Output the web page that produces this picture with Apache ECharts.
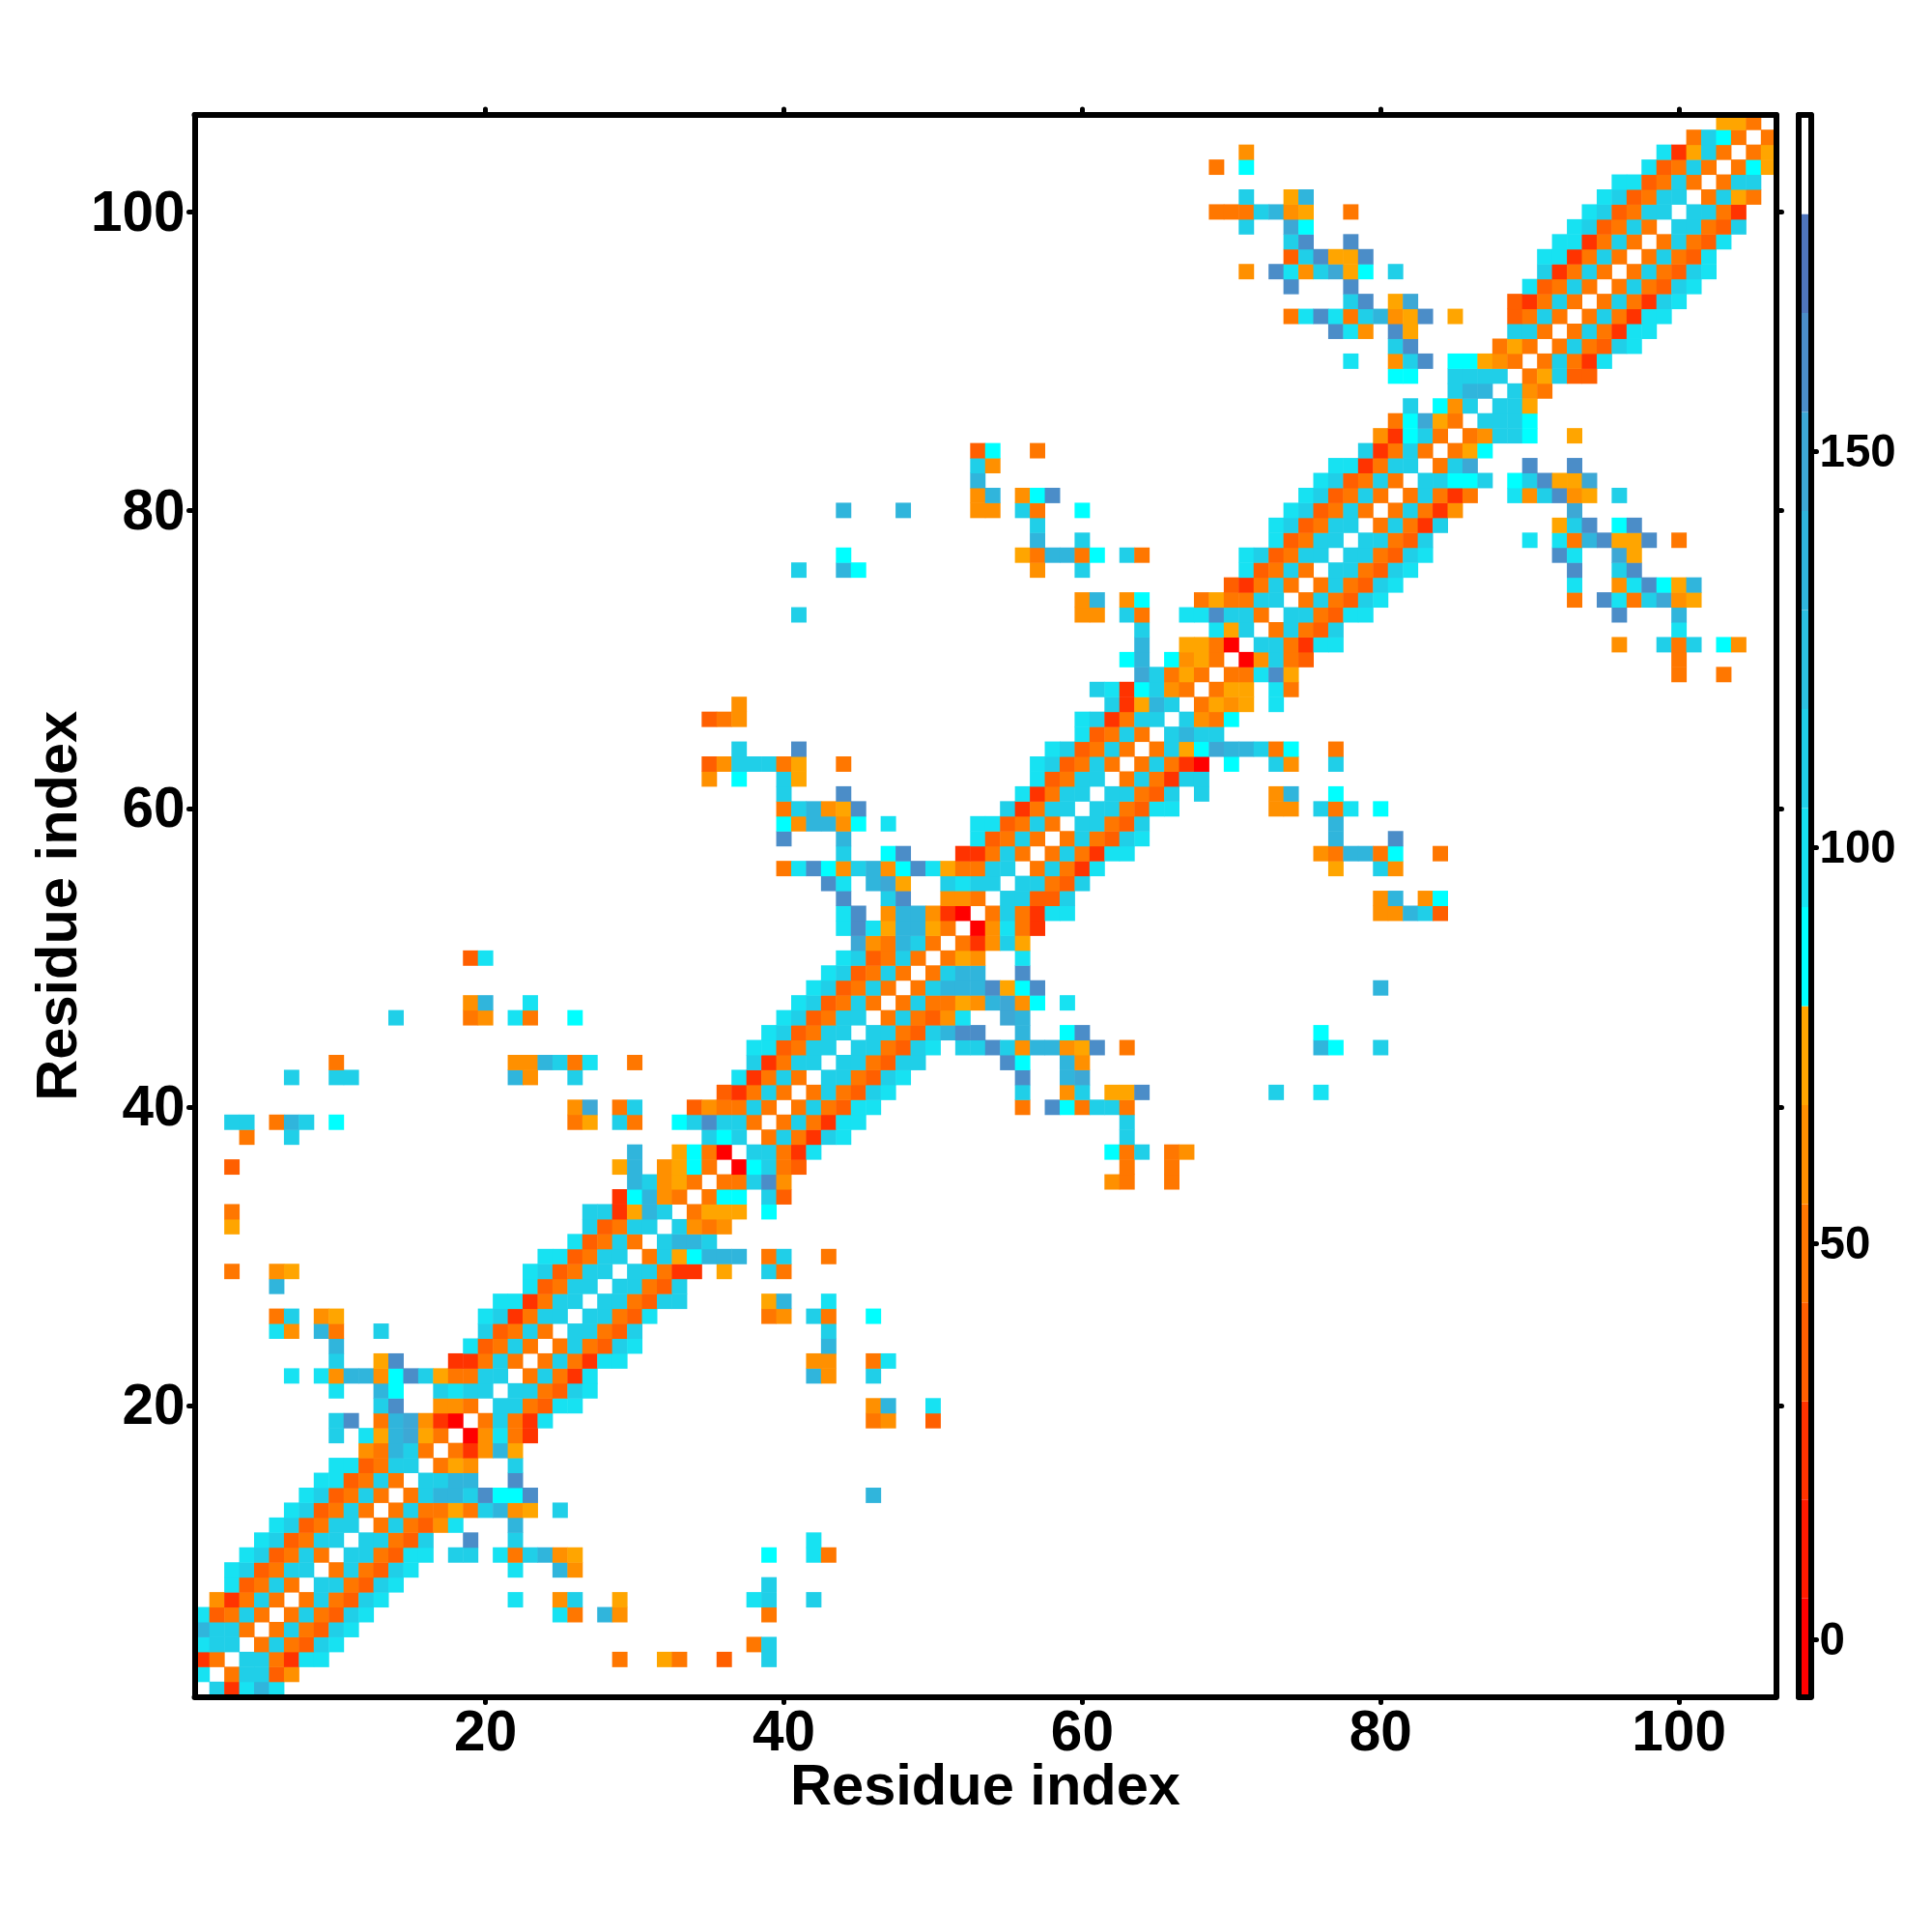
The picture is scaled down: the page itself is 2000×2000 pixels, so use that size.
<!DOCTYPE html>
<html>
<head>
<meta charset="utf-8">
<style>
  html, body { margin: 0; padding: 0; background: #fff; }
  #chart { width: 2000px; height: 2000px; }
</style>
<script src="https://cdn.jsdelivr.net/npm/echarts@6/dist/echarts.min.js"></script>
</head>
<body>
<div id="chart"></div>
<script>
// contact map, rows go bottom to top, "col:codes" runs, '.' is an empty cell
var contactRows = [
  "2:eRdfd",
  "1:d.Oeeoa",
  "1:RO.eeORdd 29:O 32:AO 36:o 39:e",
  "1:dee.OeOoed 38:Oe",
  "1:feeO.OeOoed",
  "1:doOeO.OeOoed 25:dO 28:fa 39:O",
  "2:aROeO.OeOoed 22:d 25:ae 29:A 38:de 42:e",
  "3:doOeO.eeOoed 39:e",
  "3:deoOee.OeOoed 22:d 25:fa",
  "4:deoOeO.eeOodd 18:ee 21:dOefaA 39:c 42:dO",
  "5:deoOee.eeOoe 19:b 22:e 42:d",
  "6:deoOee.OeOoad 22:f",
  "7:deoOeO.OeOOAOefaA 25:e",
  "8:deoOeO.Oeffebccb 46:f",
  "9:ddoOeO.eeff 22:b",
  "10:ddoOee.OAa 22:e",
  "12:aOfeO.ORafA",
  "10:e 12:dAfgAO.radOR",
  "10:eb 13:OfgaRr.OeORd 46:Oa 50:o",
  "13:eb 17:aaO.eeOodd 46:af 50:d",
  "10:d 13:fc 17:edee.eeOoed",
  "7:d 9:daffacbeAOOee.OeORd 42:fa 46:e",
  "10:e 13:Ab 18:RROeO.OeORdd 42:aa 46:Od",
  "10:f 19:doOeO.OeOoed 43:f",
  "6:da 9:fO 13:e 20:eoOeO.eeOoe 43:e",
  "6:Oe 9:aA 20:deROee.eeOod 39:Oa 42:eO 46:c",
  "21:ddROee.eeOoee 39:Af 43:d",
  "6:f 23:doOee.eeOoe",
  "3:O 6:aA 23:deoOee.eeORR 36:A 39:eO",
  "24:ddoOee.OeAcfff 39:Oe 43:O",
  "26:doOeO.effe",
  "3:A 27:eoOee.eaOa",
  "3:O 27:eeRAfe.OAAA 39:c",
  "29:RcfaO.Occ 39:eo",
  "30:feaAO.OOeba 62:aO 66:O",
  "3:o 29:Af 32:aAcO.rceOo 63:O 66:O",
  "30:f 33:AcOr.eeORd 62:cOe 66:Oa",
  "4:O 7:e 35:ece.OeORed 63:e",
  "3:ee 6:Ofe 10:c 26:OA 29:eO 33:cebeeO.OeORdd 63:e",
  "26:ag 29:Oe 34:oaOOeO.OeOodd 56:O 58:bcOeeO",
  "36:oROeO.OeOoed 56:e 59:ae 62:AAb 73:e 76:d",
  "7:e 10:ee 22:fa 26:e 37:dROeO.eeOoed 56:b 59:fg",
  "10:O 22:aafeOd 30:O 38:eROee.eeOoee 55:bc 59:fa",
  "38:ddoOee.eeOoed 52:eebeaffaAb 63:O 76:fc 80:e",
  "39:deoOee.eeOoefbb 56:f 59:cb 76:c",
  "14:e 19:Oa 22:dO 26:c 40:deoOee.OeOoad 55:gf",
  "19:af 23:d 41:deoOeO.OeOOAafgac 59:d",
  "42:deoOeO.OefffbAcb 80:f",
  "43:deoOeO.Oeff 56:b",
  "19:od 44:deoOeO.OAa 56:d",
  "45:gaOfeO.ORaeA",
  "44:dbdAffAO.radOR",
  "44:db 47:affaRr.OeORdd 80:aafeo",
  "44:b 47:eb 51:aaO.eeooe 80:af 83:ac",
  "43:bd 46:fgA 51:edee.eeOoe",
  "40:OdbcaefacbdAOOee.OeORd 77:A 80:ea",
  "44:e 47:cb 52:RROeO.OeORdd 76:aOffOc 84:O",
  "40:b 44:f 53:doOeO.OeOoed 77:f 81:b",
  "40:caffac 47:d 53:ddoOeO.eeOoe 77:f",
  "40:OefaAb 55:eROee.eeOodd 73:aa 76:eOd 80:c",
  "40:e 44:b 56:dROee.eeOoe 68:e 73:af 77:c",
  "35:a 37:c 40:eA 57:doOee.OeORee",
  "35:oa 37:eee 40:OA 44:O 57:deoOeO.OeORr 70:c 73:ea 77:e",
  "37:e 41:b 58:deoOeO.OeAcgffeOc 77:O",
  "60:doOeO.efee",
  "35:oOa 60:deROee.eaOc",
  "37:a 62:eRAfe.OAaA 73:d",
  "61:edRceaO.OAA 73:dO",
  "64:geOAO.OOdbA 100:O 103:O",
  "63:cf 66:caAO.raeOo 100:O",
  "64:f 67:AAOr.eeORdd 96:a 99:eOe 103:ca",
  "64:e 69:dAe.OeOoe 100:d",
  "41:e 60:aa 63:eO 67:ddbeeO.eeOodd 96:b 100:f",
  "60:af 63:ac 68:OAOOee.OeOoed 93:O 95:bdOegaA",
  "70:oROeO.OeOoed 93:d 96:adbcAf",
  "41:e 44:fc 57:a 60:e 71:doOeO.eeOoed 93:b 96:eb",
  "44:c 56:AOffOc 63:eO 71:deoOee.eeOoed 92:bd 96:gA",
  "57:f 60:e 73:doOee.eeOoe 90:d 92:dOfbAAb 100:O",
  "57:e 73:deoOee.OeORe 92:Aeb 96:cb",
  "44:f 48:f 53:aa 56:eO 60:c 74:deoOeO.OeORa 93:g",
  "53:af 56:acb 75:deoOeO.OeORO 89:daebaA 96:e",
  "53:f 76:deoOeO.eecce 89:cebAAg",
  "53:ea 77:ddROee.Oeg 90:b 93:b",
  "53:oc 57:O 79:eROeO.OAc",
  "80:aRceO.Oaeec 93:A",
  "81:OcgAO.eeec",
  "82:e 84:cae.eeA",
  "85:eff.eaO",
  "81:cc 85:eeee.OAeoo",
  "78:d 81:aeb 85:ccAaO.OeORd",
  "81:eb 88:OAO.OeOoed",
  "77:bda 81:bA 89:eeO.OeORdd",
  "74:OdbdOefaAb 85:A 89:oOeO.OeORdd",
  "78:eb 81:Ag 89:oROeO.OeORed",
  "74:b 78:b 90:doOeO.OeOoed",
  "71:a 73:bdaegAc 81:e 91:eROeO.OeOoed",
  "74:oebAAb 91:ddROeO.OeOod",
  "74:eb 78:b 92:ddROeO.OeOod",
  "71:e 74:gc 93:deoOeO.eeOoe",
  "69:OOOefaA 78:O 94:deoOee.eeOR",
  "71:e 74:Af 95:deoOee.OeAO",
  "96:ddoOeO.Oee",
  "69:O 71:c 98:doOeO.OcA",
  "71:a 99:dRAeO.OA",
  "101:OecO.O",
  "103:AAO"
];

// what each letter in contactRows stands for
var levelCodes = { r: -1, R: 24, o: 36, O: 49, a: 61, A: 74, c: 86, d: 99, e: 111, f: 136, g: 149, b: 161 };

var scaleBreaks = [-7.2, 5.2, 17.7, 30.1, 42.6, 55, 67.5, 80, 92.5, 105, 117.5, 130, 142.5, 155, 167.5, 180, 192.5];
var scaleColors = ['#ff0000', '#ff1a00', '#ff3300', '#ff5f00', '#ff7700', '#ff9000', '#ffa500',
  '#00ffff', '#17e2f2', '#20cfe8', '#2cc0e2', '#30b5dc', '#3da8d5', '#4b8dc8', '#4f75bc', '#ffffff'];
var scaleTicks = [0, 50, 100, 150];

var residues = [];
for (var i = 1; i <= contactRows.length; i++) residues.push(String(i));

var cells = [];
contactRows.forEach(function(row, r) {
  row.split(' ').forEach(function(run) {
    var parts = run.split(':');
    var start = +parts[0] - 1;
    parts[1].split('').forEach(function(code, k) {
      if (code !== '.') cells.push([start + k, r, levelCodes[code]]);
    });
  });
});

var segments = scaleColors.map(function(c, k) { return [scaleBreaks[k], scaleBreaks[k + 1], k]; });
var pieces = scaleColors.map(function(c, k) { return { gte: scaleBreaks[k], lt: scaleBreaks[k + 1], color: c }; });

var font = '"Liberation Sans", Arial, sans-serif';
var frame = { show: true, onZero: false, lineStyle: { color: '#000', width: 6, cap: 'round' } };
var tickStyle = { color: '#000', width: 5, cap: 'round' };
var every20 = function(idx, val) { return +val % 20 === 0; };

function mainAxis(position, labelled) {
  var isX = position === 'bottom' || position === 'top';
  return {
    type: 'category',
    gridIndex: 0,
    position: position,
    data: residues,
    z: 6,
    axisLine: frame,
    axisTick: { show: true, length: 6, alignWithLabel: true, interval: every20, lineStyle: tickStyle },
    axisLabel: labelled ? {
      show: true, interval: every20, color: '#000', margin: 10, hideOverlap: false,
      fontFamily: font, fontWeight: 'bold', fontSize: 58.5,
      formatter: isX ? '{value}' : '{v|{value}}',
      rich: { v: { color: '#000', fontFamily: font, fontWeight: 'bold', fontSize: 58.5, padding: [6, 0, 0, 0] } }
    } : { show: false },
    splitLine: { show: false },
    name: labelled ? 'Residue index' : '',
    nameLocation: 'middle',
    nameMoveOverlap: false,
    nameGap: isX ? 65 : 109,
    nameTextStyle: { color: '#000', fontFamily: font, fontWeight: 'bold', fontSize: 59.6 }
  };
}

var chart = echarts.init(document.getElementById('chart'));
chart.setOption({
  backgroundColor: '#fff',
  animation: false,
  grid: [
    { left: 201.5, top: 119, width: 1637, height: 1637.5 },
    { left: 1862, top: 119, width: 12.5, height: 1637.5 }
  ],
  xAxis: [
    mainAxis('bottom', true),
    mainAxis('top', false),
    { type: 'value', gridIndex: 1, position: 'bottom', min: 0, max: 1, z: 6, axisLine: frame, axisTick: { show: false }, axisLabel: { show: false }, splitLine: { show: false } },
    { type: 'value', gridIndex: 1, position: 'top', min: 0, max: 1, z: 6, axisLine: frame, axisTick: { show: false }, axisLabel: { show: false }, splitLine: { show: false } }
  ],
  yAxis: [
    mainAxis('left', true),
    mainAxis('right', false),
    { type: 'value', gridIndex: 1, position: 'left', min: scaleBreaks[0], max: scaleBreaks[16], z: 6, axisLine: frame, axisTick: { show: false }, axisLabel: { show: false }, splitLine: { show: false } },
    {
      type: 'value', gridIndex: 1, position: 'right', min: scaleBreaks[0], max: scaleBreaks[16], z: 6,
      axisLine: frame,
      axisTick: { show: true, length: 6, customValues: scaleTicks, lineStyle: tickStyle },
      axisLabel: {
        show: true, customValues: scaleTicks, margin: 9, color: '#000',
        fontFamily: font, fontWeight: 'bold', fontSize: 47.5,
        formatter: '{v|{value}}',
        rich: { v: { color: '#000', fontFamily: font, fontWeight: 'bold', fontSize: 47.5, padding: [5, 0, 0, 0] } }
      },
      splitLine: { show: false }
    }
  ],
  visualMap: { type: 'piecewise', show: false, seriesIndex: 0, dimension: 2, pieces: pieces },
  series: [
    {
      type: 'heatmap',
      xAxisIndex: 0,
      yAxisIndex: 0,
      data: cells,
      progressive: 0,
      itemStyle: { borderWidth: 0 }
    },
    {
      type: 'custom',
      xAxisIndex: 2,
      yAxisIndex: 2,
      data: segments,
      encode: { y: [0, 1] },
      renderItem: function(params, api) {
        var a = api.coord([0, api.value(1)]);
        var b = api.coord([1, api.value(0)]);
        return { type: 'rect', shape: { x: a[0], y: a[1], width: b[0] - a[0], height: b[1] - a[1] }, style: { fill: scaleColors[api.value(2)] } };
      }
    }
  ]
});
window.addEventListener('resize', function() { chart.resize(); });
</script>
</body>
</html>
